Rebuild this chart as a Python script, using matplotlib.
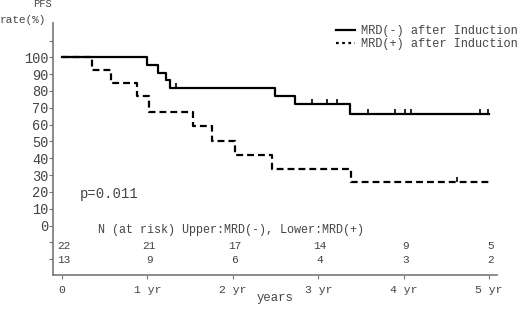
import matplotlib
matplotlib.use("Agg")
import matplotlib.pyplot as plt

# ---- data ----
neg_times = [0.0, 0.99, 1.12, 1.22, 1.27, 2.49, 2.73, 3.37, 5.0]
neg_surv = [100, 95.5, 90.9, 86.4, 81.8, 77.0, 72.4, 66.5, 66.5]
neg_censor_t = [1.33, 2.93, 3.10, 3.22, 3.58, 3.90, 4.02, 4.09, 4.89, 4.99]

pos_times = [0.0, 0.35, 0.57, 0.875, 1.02, 1.53, 1.76, 2.02, 2.46, 3.38, 5.0]
pos_surv = [100, 92.3, 84.6, 76.9, 67.3, 58.9, 50.5, 42.1, 33.7, 25.9, 25.9]
pos_censor_t = [4.63]

year_ticks = [0, 1, 2, 3, 4, 5]
year_labels = ["0", "1 yr", "2 yr", "3 yr", "4 yr", "5 yr"]
risk_upper = [22, 21, 17, 14, 9, 5]
risk_lower = [13, 9, 6, 4, 3, 2]
y_ticks = [110, 100, 90, 80, 70, 60, 50, 40, 30, 20, 10, 0, -10, -20]
y_labels = ["", "100", "90", "80", "70", "60", "50", "40", "30", "20", "10", "0", "", ""]

legend_labels = ["MRD(-) after Induction", "MRD(+) after Induction"]
p_text = "p=0.011"
risk_header = "N (at risk) Upper:MRD(-), Lower:MRD(+)"

FONT = "Liberation Mono"
TXT = "#444444"
SP = "#777777"

plt.rcParams['font.family'] = [FONT, 'DejaVu Sans Mono']

fig = plt.figure(figsize=(5.2, 3.13), dpi=100)
ax = fig.add_axes([0.102, 0.121, 0.854, 0.806])


def step_at(times, surv, t):
    v = surv[0]
    for ti, si in zip(times, surv):
        if ti <= t:
            v = si
    return v


ax.step(neg_times, neg_surv, where="post", color="black", lw=1.6,
        label=legend_labels[0])
ax.step(pos_times, pos_surv, where="post", color="black", lw=1.6,
        linestyle=(0, (3.1, 1.8)), label=legend_labels[1])

cmark = [(0, 0), (0, 1)]
ax.plot(neg_censor_t, [step_at(neg_times, neg_surv, t) for t in neg_censor_t],
        linestyle="none", marker=cmark, markersize=6.5, markeredgewidth=1.2,
        color="black")
ax.plot(pos_censor_t, [step_at(pos_times, pos_surv, t) for t in pos_censor_t],
        linestyle="none", marker=cmark, markersize=6.5, markeredgewidth=1.2,
        color="black")

ax.set_xlim(-0.105, 5.094)
ax.set_ylim(-29.5, 120.5)

ax.set_xticks(year_ticks)
ax.set_xticklabels(year_labels, fontsize=8.2, color=TXT)
ax.set_yticks(y_ticks)
ax.set_yticklabels(y_labels, fontsize=9.8, color=TXT)
ax.tick_params(axis="y", length=3, width=0.8, color=SP, pad=0.5)
ax.tick_params(axis="x", length=3, width=0.8, color=SP, pad=4)

for s in ["top", "right"]:
    ax.spines[s].set_visible(False)
for s in ["left", "bottom"]:
    ax.spines[s].set_color(SP)
    ax.spines[s].set_linewidth(1.2)

ax.set_xlabel("years", fontsize=8.8, color=TXT, labelpad=-2)

fig.text(0.082, 1.003, "PFS", fontsize=7.5, color=TXT, ha="center", va="top")
fig.text(0.0, 0.935, "rate(%)", fontsize=8, color=TXT, ha="left", va="center")

ax.text(0.21, 19.0, p_text, fontsize=10, color=TXT, ha="left", va="center")
ax.text(0.42, -2.5, risk_header, fontsize=8.5, color=TXT, ha="left", va="center")
for x, u, l in zip(year_ticks, risk_upper, risk_lower):
    ax.text(x + 0.02, -12.3, str(u), fontsize=8, color=TXT, ha="center", va="center")
    ax.text(x + 0.02, -20.8, str(l), fontsize=8, color=TXT, ha="center", va="center")

leg_handles = [
    plt.Line2D([], [], color="black", lw=1.6),
    plt.Line2D([], [], color="black", lw=1.6, linestyle=(0, (1.2, 1.6))),
]
ax.legend(leg_handles, legend_labels, loc="upper right",
          bbox_to_anchor=(1.058, 1.01), frameon=False, prop={"size": 8.6},
          handlelength=1.6, handletextpad=0.5, labelspacing=0.1,
          labelcolor=TXT, borderaxespad=0)

fig.savefig("out.png", dpi=100)
